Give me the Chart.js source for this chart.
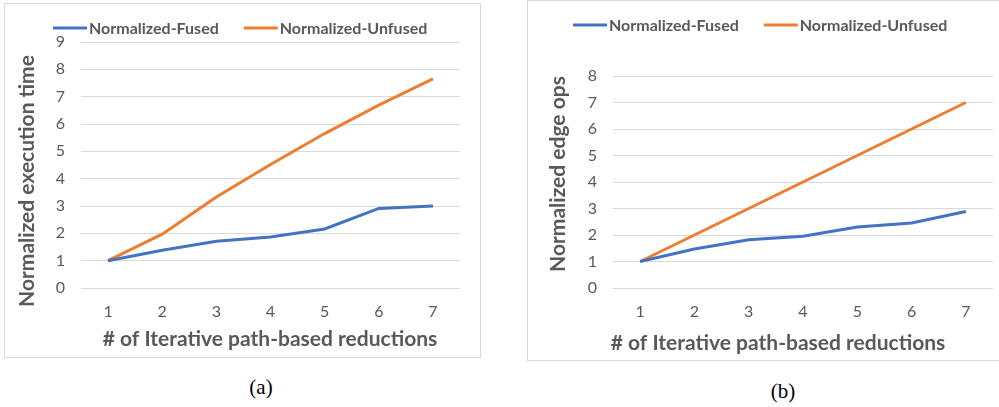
<!DOCTYPE html>
<html>
<head>
<meta charset="utf-8">
<script src="https://cdn.jsdelivr.net/npm/chart.js@4/dist/chart.umd.min.js"></script>
<style>
    body { margin: 0; background: #fff; width: 999px; height: 407px; overflow: hidden; position: relative; }
    .box { position: absolute; border: 1px solid #d9d9d9; box-sizing: border-box; background: #fff; }
    .box canvas { display: block; }
    .caption { position: absolute; font-family: "Liberation Serif", "DejaVu Serif", serif; font-size: 21px; color: #000; transform: translate(-50%, -50%); }
</style>
</head>
<body>

<div class="box" id="boxA" style="left:4px; top:3px; width:477px; height:355px;">
    <canvas id="chartA" width="475" height="353"></canvas>
</div>
<div class="box" id="boxB" style="left:527px; top:0px; width:480px; height:361px;">
    <canvas id="chartB" width="478" height="359"></canvas>
</div>
<div class="caption" style="left:261px; top:387px;">(a)</div>
<div class="caption" style="left:783px; top:391px;">(b)</div>

<script>
// ===== DATA =====
const reductions = ['1', '2', '3', '4', '5', '6', '7'];

// (a) normalized execution time
const timeFused = [1.0, 1.38, 1.71, 1.87, 2.16, 2.91, 3.0];
const timeUnfused = [1.0, 1.97, 3.33, 4.52, 5.65, 6.69, 7.65];

// (b) normalized edge ops
const opsFused = [1.0, 1.47, 1.82, 1.95, 2.3, 2.45, 2.89];
const opsUnfused = [1, 2, 3, 4, 5, 6, 7];

const seriesLabels = ['Normalized-Fused', 'Normalized-Unfused'];
const xTitle = '# of Iterative path-based reductions';

const BLUE = '#4472c4';
const ORANGE = '#ed7d31';
const TEXT = '#595959';
const GRID = '#d9d9d9';
const FONT = 'Lato, "Open Sans", sans-serif';

// Draws Excel-style legend + axis titles at fixed spots
const decorPlugin = {
    id: 'decor',
    afterDraw(chart, args, opts) {
        const ctx = chart.ctx;
        ctx.save();

        // legend
        ctx.font = 'bold 16px ' + FONT;
        ctx.textBaseline = 'middle';
        ctx.textAlign = 'left';
        let x = opts.legendX;
        chart.data.datasets.forEach(ds => {
            ctx.strokeStyle = ds.borderColor;
            ctx.lineWidth = 3;
            ctx.beginPath();
            ctx.moveTo(x, opts.legendY);
            ctx.lineTo(x + 34, opts.legendY);
            ctx.stroke();
            ctx.fillStyle = TEXT;
            ctx.fillText(ds.label, x + 36, opts.legendY + 1);
            x += 36 + ctx.measureText(ds.label).width + 25;
        });

        // axis titles
        ctx.font = 'bold 21px ' + FONT;
        ctx.textAlign = 'center';
        ctx.fillStyle = TEXT;
        ctx.fillText(opts.xTitle, opts.xTitleX, opts.xTitleY);

        ctx.translate(opts.yTitleX, opts.yTitleY);
        ctx.rotate(-Math.PI / 2);
        ctx.fillText(opts.yTitle, 0, 0);
        ctx.restore();
    }
};

function makeChart(canvasId, fused, unfused, yMax, pad, yWidth, xHeight, decor) {
    const ctx = document.getElementById(canvasId);
    return new Chart(ctx.getContext('2d'), {
        type: 'line',
        data: {
            labels: reductions,
            datasets: [{
                label: seriesLabels[0],
                data: fused,
                borderColor: BLUE,
                backgroundColor: BLUE,
                borderWidth: 3,
                pointRadius: 0,
                tension: 0
            }, {
                label: seriesLabels[1],
                data: unfused,
                borderColor: ORANGE,
                backgroundColor: ORANGE,
                borderWidth: 3,
                pointRadius: 0,
                tension: 0
            }]
        },
        options: {
            responsive: false,
            animation: false,
            layout: { padding: pad },
            plugins: {
                legend: { display: false },
                tooltip: { enabled: false },
                decor: decor
            },
            scales: {
                x: {
                    offset: true,
                    grid: { display: false },
                    border: { display: false },
                    ticks: { color: TEXT, font: { family: FONT, size: 16 }, padding: 6 },
                    afterFit: function(scale) { scale.height = xHeight; }
                },
                y: {
                    min: 0,
                    max: yMax,
                    grid: { color: GRID, lineWidth: 1, drawTicks: false },
                    border: { display: false },
                    ticks: { stepSize: 1, color: TEXT, font: { family: FONT, size: 16 }, padding: 16 },
                    afterFit: function(scale) { scale.width = yWidth; }
                }
            }
        },
        plugins: [decorPlugin]
    });
}

document.addEventListener('DOMContentLoaded', function() {
    makeChart('chartA', timeFused, timeUnfused, 9,
        { left: 0, right: 20, top: 38, bottom: 0 }, 76, 69,
        { legendX: 48, legendY: 24, xTitle: xTitle, xTitleX: 265, xTitleY: 335,
          yTitle: 'Normalized execution time', yTitleX: 22, yTitleY: 177 });

    makeChart('chartB', opsFused, opsUnfused, 8,
        { left: 0, right: 13, top: 75, bottom: 0 }, 85, 72,
        { legendX: 45, legendY: 24, xTitle: xTitle, xTitleX: 250, xTitleY: 342,
          yTitle: 'Normalized edge ops', yTitleX: 30, yTitleY: 173 });
});
</script>
</body>
</html>
